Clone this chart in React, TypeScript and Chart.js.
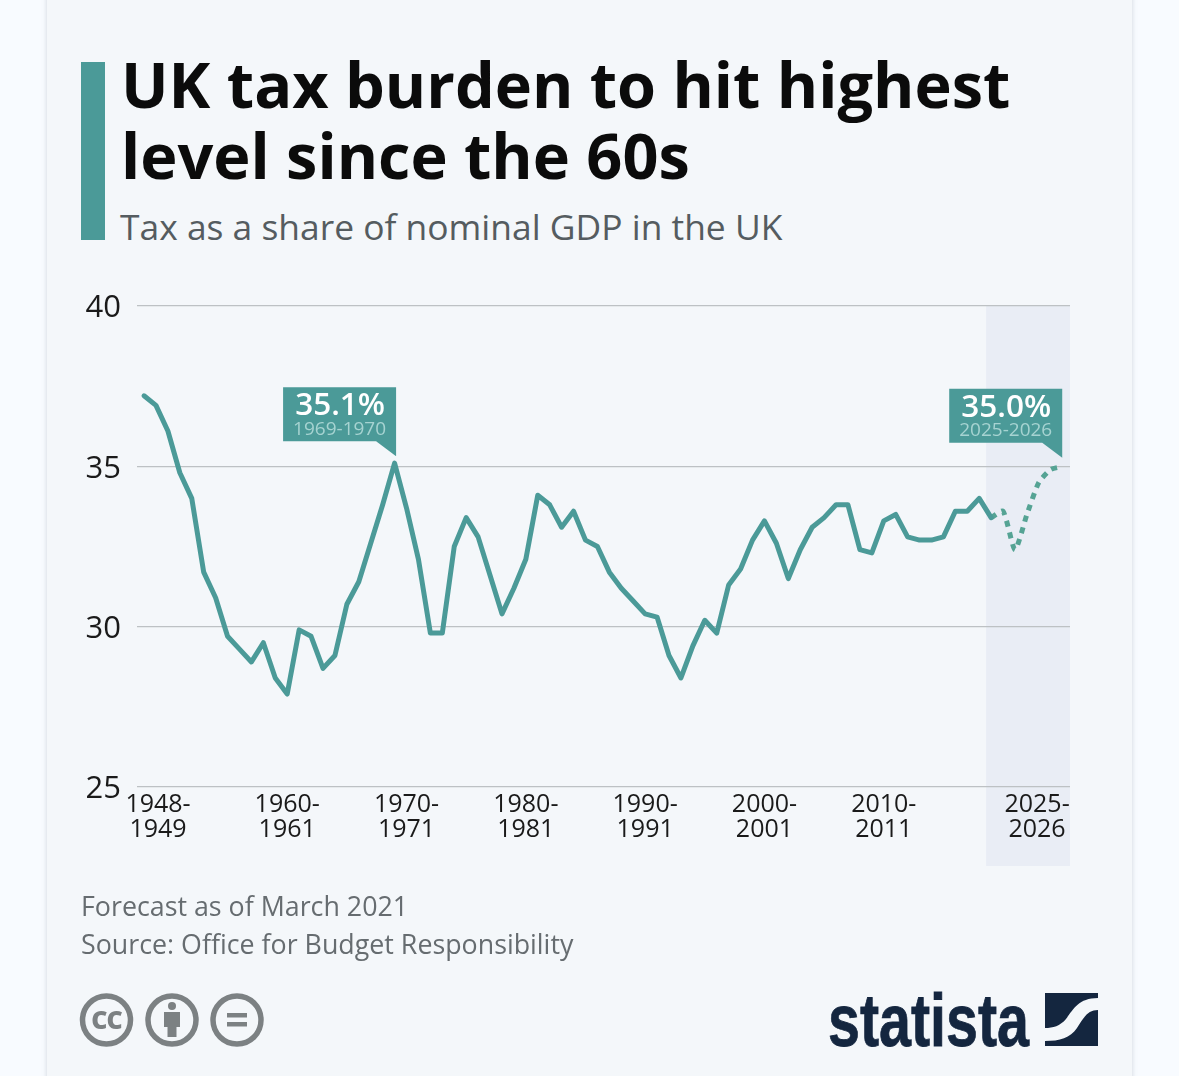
import { useEffect, useRef } from 'react';
import { Chart, registerables } from 'chart.js';

Chart.register(...registerables);

const FONT = '"Open Sans", sans-serif';
const TEAL = '#4b9a98';

// financial year start of each observation
const actualYears = [
  1948, 1949, 1950, 1951, 1952, 1953, 1954, 1955, 1956, 1957, 1958, 1959, 1960, 1961, 1962, 1963,
  1964, 1965, 1966, 1967, 1968, 1969, 1970, 1971, 1972, 1973, 1974, 1975, 1976, 1977, 1978, 1979,
  1980, 1981, 1982, 1983, 1984, 1985, 1986, 1987, 1988, 1989, 1990, 1991, 1992, 1993, 1994, 1995,
  1996, 1997, 1998, 1999, 2000, 2001, 2002, 2003, 2004, 2005, 2006, 2007, 2008, 2009, 2010, 2011,
  2012, 2013, 2014, 2015, 2016, 2017, 2018, 2019,
];
const actualValues = [
  37.2, 36.9, 36.1, 34.8, 34.0, 31.7, 30.9, 29.7, 29.3, 28.9, 29.5, 28.4, 27.9, 29.9, 29.7, 28.7,
  29.1, 30.7, 31.4, 32.6, 33.8, 35.1, 33.7, 32.1, 29.8, 29.8, 32.5, 33.4, 32.8, 31.6, 30.4, 31.2,
  32.1, 34.1, 33.8, 33.1, 33.6, 32.7, 32.5, 31.7, 31.2, 30.8, 30.4, 30.3, 29.1, 28.4, 29.4, 30.2,
  29.8, 31.3, 31.8, 32.7, 33.3, 32.6, 31.5, 32.4, 33.1, 33.4, 33.8, 33.8, 32.4, 32.3, 33.3, 33.5,
  32.8, 32.7, 32.7, 32.8, 33.6, 33.6, 34.0, 33.4,
];
const forecastYears = [2019, 2020, 2021, 2022, 2023, 2024, 2025];
const forecastValues = [33.4, 33.6, 32.4, 33.5, 34.5, 34.9, 35.0];

const yTicks = [25, 30, 35, 40];
const tickYears = [1948, 1960, 1970, 1980, 1990, 2000, 2010, 2025];
const tickLabels = [
  ['1948-', '1949'],
  ['1960-', '1961'],
  ['1970-', '1971'],
  ['1980-', '1981'],
  ['1990-', '1991'],
  ['2000-', '2001'],
  ['2010-', '2011'],
  ['2025-', '2026'],
];
const forecastBandStart = 2018.58;

const callouts = [
  { year: 1969, value: 35.1, big: '35.1%', small: '1969-1970', rise: 76, dx: 1.5 },
  { year: 2025, value: 35.0, big: '35.0%', small: '2025-2026', rise: 77.5, dx: -0.5 },
];

const bandPlugin = {
  id: 'forecastBand',
  beforeDraw(chart: any) {
    const { ctx, chartArea, scales } = chart;
    const x0 = scales.x.getPixelForValue(forecastBandStart);
    ctx.save();
    ctx.fillStyle = '#e9edf5';
    ctx.fillRect(x0, chartArea.top, chartArea.right - x0, chartArea.bottom - chartArea.top + 79);
    ctx.restore();
  },
};

const calloutPlugin = {
  id: 'callouts',
  afterDatasetsDraw(chart: any) {
    const { ctx, scales } = chart;
    ctx.save();
    callouts.forEach((c) => {
      const px = scales.x.getPixelForValue(c.year);
      const py = scales.y.getPixelForValue(c.value);
      const right = px + c.dx;
      const left = right - 113;
      const top = py - c.rise;
      const mid = (left + right) / 2 - 0.5;
      ctx.fillStyle = TEAL;
      ctx.beginPath();
      ctx.moveTo(left, top);
      ctx.lineTo(right, top);
      ctx.lineTo(right, top + 69);
      ctx.lineTo(right - 20, top + 54);
      ctx.lineTo(left, top + 54);
      ctx.closePath();
      ctx.fill();
      ctx.textAlign = 'center';
      ctx.textBaseline = 'middle';
      ctx.fillStyle = '#ffffff';
      ctx.font = `600 31.5px ${FONT}`;
      ctx.fillText(c.big, mid + 1, top + 19);
      ctx.fillStyle = '#a6d3d1';
      ctx.font = `400 19px ${FONT}`;
      ctx.fillText(c.small, mid + 0.5, top + 42);
    });
    ctx.restore();
  },
};

function abs(left: number, top: number, extra: any) {
  return { position: 'absolute', left, top, margin: 0, whiteSpace: 'nowrap', fontFamily: FONT, ...extra } as any;
}

function Badges() {
  const stroke = '#7c8183';
  return (
    <svg width={1179} height={1076} style={{ position: 'absolute', left: 0, top: 0 }}>
      <g fill="none" stroke={stroke} strokeWidth={5.5}>
        <circle cx={106.5} cy={1020} r={24} />
        <circle cx={172} cy={1020} r={24} />
        <circle cx={237} cy={1020} r={24} />
      </g>
      <text x={106.5} y={1029} textAnchor="middle" fontFamily={FONT} fontWeight={800} fontSize={25} fill={stroke} letterSpacing={-1}>
        CC
      </text>
      <g fill={stroke}>
        <circle cx={172} cy={1006} r={4} />
        <path d="M164 1012 H180 V1027 H176.5 V1037 H167.5 V1027 H164 Z" />
        <rect x={227} y={1013} width={20} height={4.5} />
        <rect x={227} y={1022} width={20} height={4.5} />
      </g>
      <text
        x={828}
        y={1045.5}
        fontFamily='"Liberation Sans Narrow", "Liberation Sans", sans-serif'
        fontWeight={700}
        fontSize={75}
        fill="#14263f"
        stroke="#14263f"
        strokeWidth={0.8}
        textLength={201}
        lengthAdjust="spacingAndGlyphs"
      >
        statista
      </text>
      <g fill="#14263f">
        <path d="M1045 993 H1098 V998 C1078 998 1073 1010 1066 1019 C1060 1026 1053 1028 1045 1028 Z" />
        <path d="M1098 1010 V1046 H1045 V1041 C1060 1041 1070 1038 1077 1028 C1084 1017 1088 1010 1098 1010 Z" />
      </g>
    </svg>
  );
}

export default function App() {
  const canvasRef = useRef<HTMLCanvasElement>(null);

  useEffect(() => {
    if (!canvasRef.current) return;
    const chart = new Chart(canvasRef.current, {
      type: 'line',
      data: {
        datasets: [
          {
            data: actualYears.map((y, i) => ({ x: y, y: actualValues[i] })),
            borderColor: TEAL,
            borderWidth: 5,
            borderJoinStyle: 'round',
            borderCapStyle: 'round',
            pointRadius: 0,
            tension: 0,
          },
          {
            data: forecastYears.map((y, i) => ({ x: y, y: forecastValues[i] })),
            borderColor: '#55a394',
            borderWidth: 5,
            borderDash: [6, 6],
            pointRadius: 0,
            tension: 0.2,
          },
        ],
      },
      options: {
        responsive: false,
        animation: false,
        devicePixelRatio: 1,
        layout: { padding: { top: 306, right: 109, left: 0, bottom: 200 } },
        plugins: { legend: { display: false }, tooltip: { enabled: false } },
        scales: {
          x: {
            type: 'linear',
            min: 1947.41,
            max: 2025.61,
            grid: { display: false },
            border: { display: false },
            afterBuildTicks: (scale: any) => {
              // the outer labels are pulled inwards so they stay under the plot
              scale.ticks = tickYears.map((y, i) => ({
                value: i === 0 ? y + 1.17 : i === tickYears.length - 1 ? y - 2.15 : y,
              }));
            },
            afterFit: (scale: any) => {
              scale.height = 89;
            },
            ticks: {
              autoSkip: false,
              maxRotation: 0,
              padding: -3,
              color: '#1a1a1a',
              font: { family: FONT, size: 25, lineHeight: 1 },
              callback: (_v: any, i: number) => tickLabels[i],
            },
          },
          y: {
            min: 25,
            max: 40,
            afterBuildTicks: (scale: any) => {
              scale.ticks = yTicks.map((v) => ({ value: v }));
            },
            afterFit: (scale: any) => {
              scale.width = 137;
            },
            grid: { color: '#bdc1c4', lineWidth: 1.2, drawTicks: false },
            border: { display: false },
            ticks: {
              padding: 16,
              labelOffset: 2.5,
              color: '#1a1a1a',
              font: { family: FONT, size: 31 },
            },
          },
        },
      },
      plugins: [bandPlugin, calloutPlugin],
    } as any);
    return () => chart.destroy();
  }, []);

  return (
    <div style={{ position: 'absolute', left: 0, top: 0, width: 1179, height: 1076, overflow: 'hidden', background: '#f8fbff' }}>
      <div style={{ position: 'absolute', left: 47, top: -20, width: 1085, height: 1120, background: '#f4f7fa', boxShadow: '0 0 5px rgba(90,100,120,0.25)' }} />
      <div style={{ position: 'absolute', left: 81, top: 62, width: 24, height: 178, background: TEAL }} />
      <h1 style={abs(121, 48, { fontSize: 63, lineHeight: '71px', fontWeight: 700, color: '#0b0b0b' })}>
        UK tax burden to hit highest
        <br />
        level since the 60s
      </h1>
      <div style={abs(120, 203, { fontSize: 35.4, lineHeight: '46px', color: '#555c60' })}>Tax as a share of nominal GDP in the UK</div>
      <canvas ref={canvasRef} width={1179} height={1076} style={{ position: 'absolute', left: 0, top: 0, width: 1179, height: 1076 }} />
      <div style={abs(81, 887, { fontSize: 26.8, lineHeight: '38px', color: '#666c70' })}>
        Forecast as of March 2021
        <br />
        Source: Office for Budget Responsibility
      </div>
      <Badges />
    </div>
  );
}
